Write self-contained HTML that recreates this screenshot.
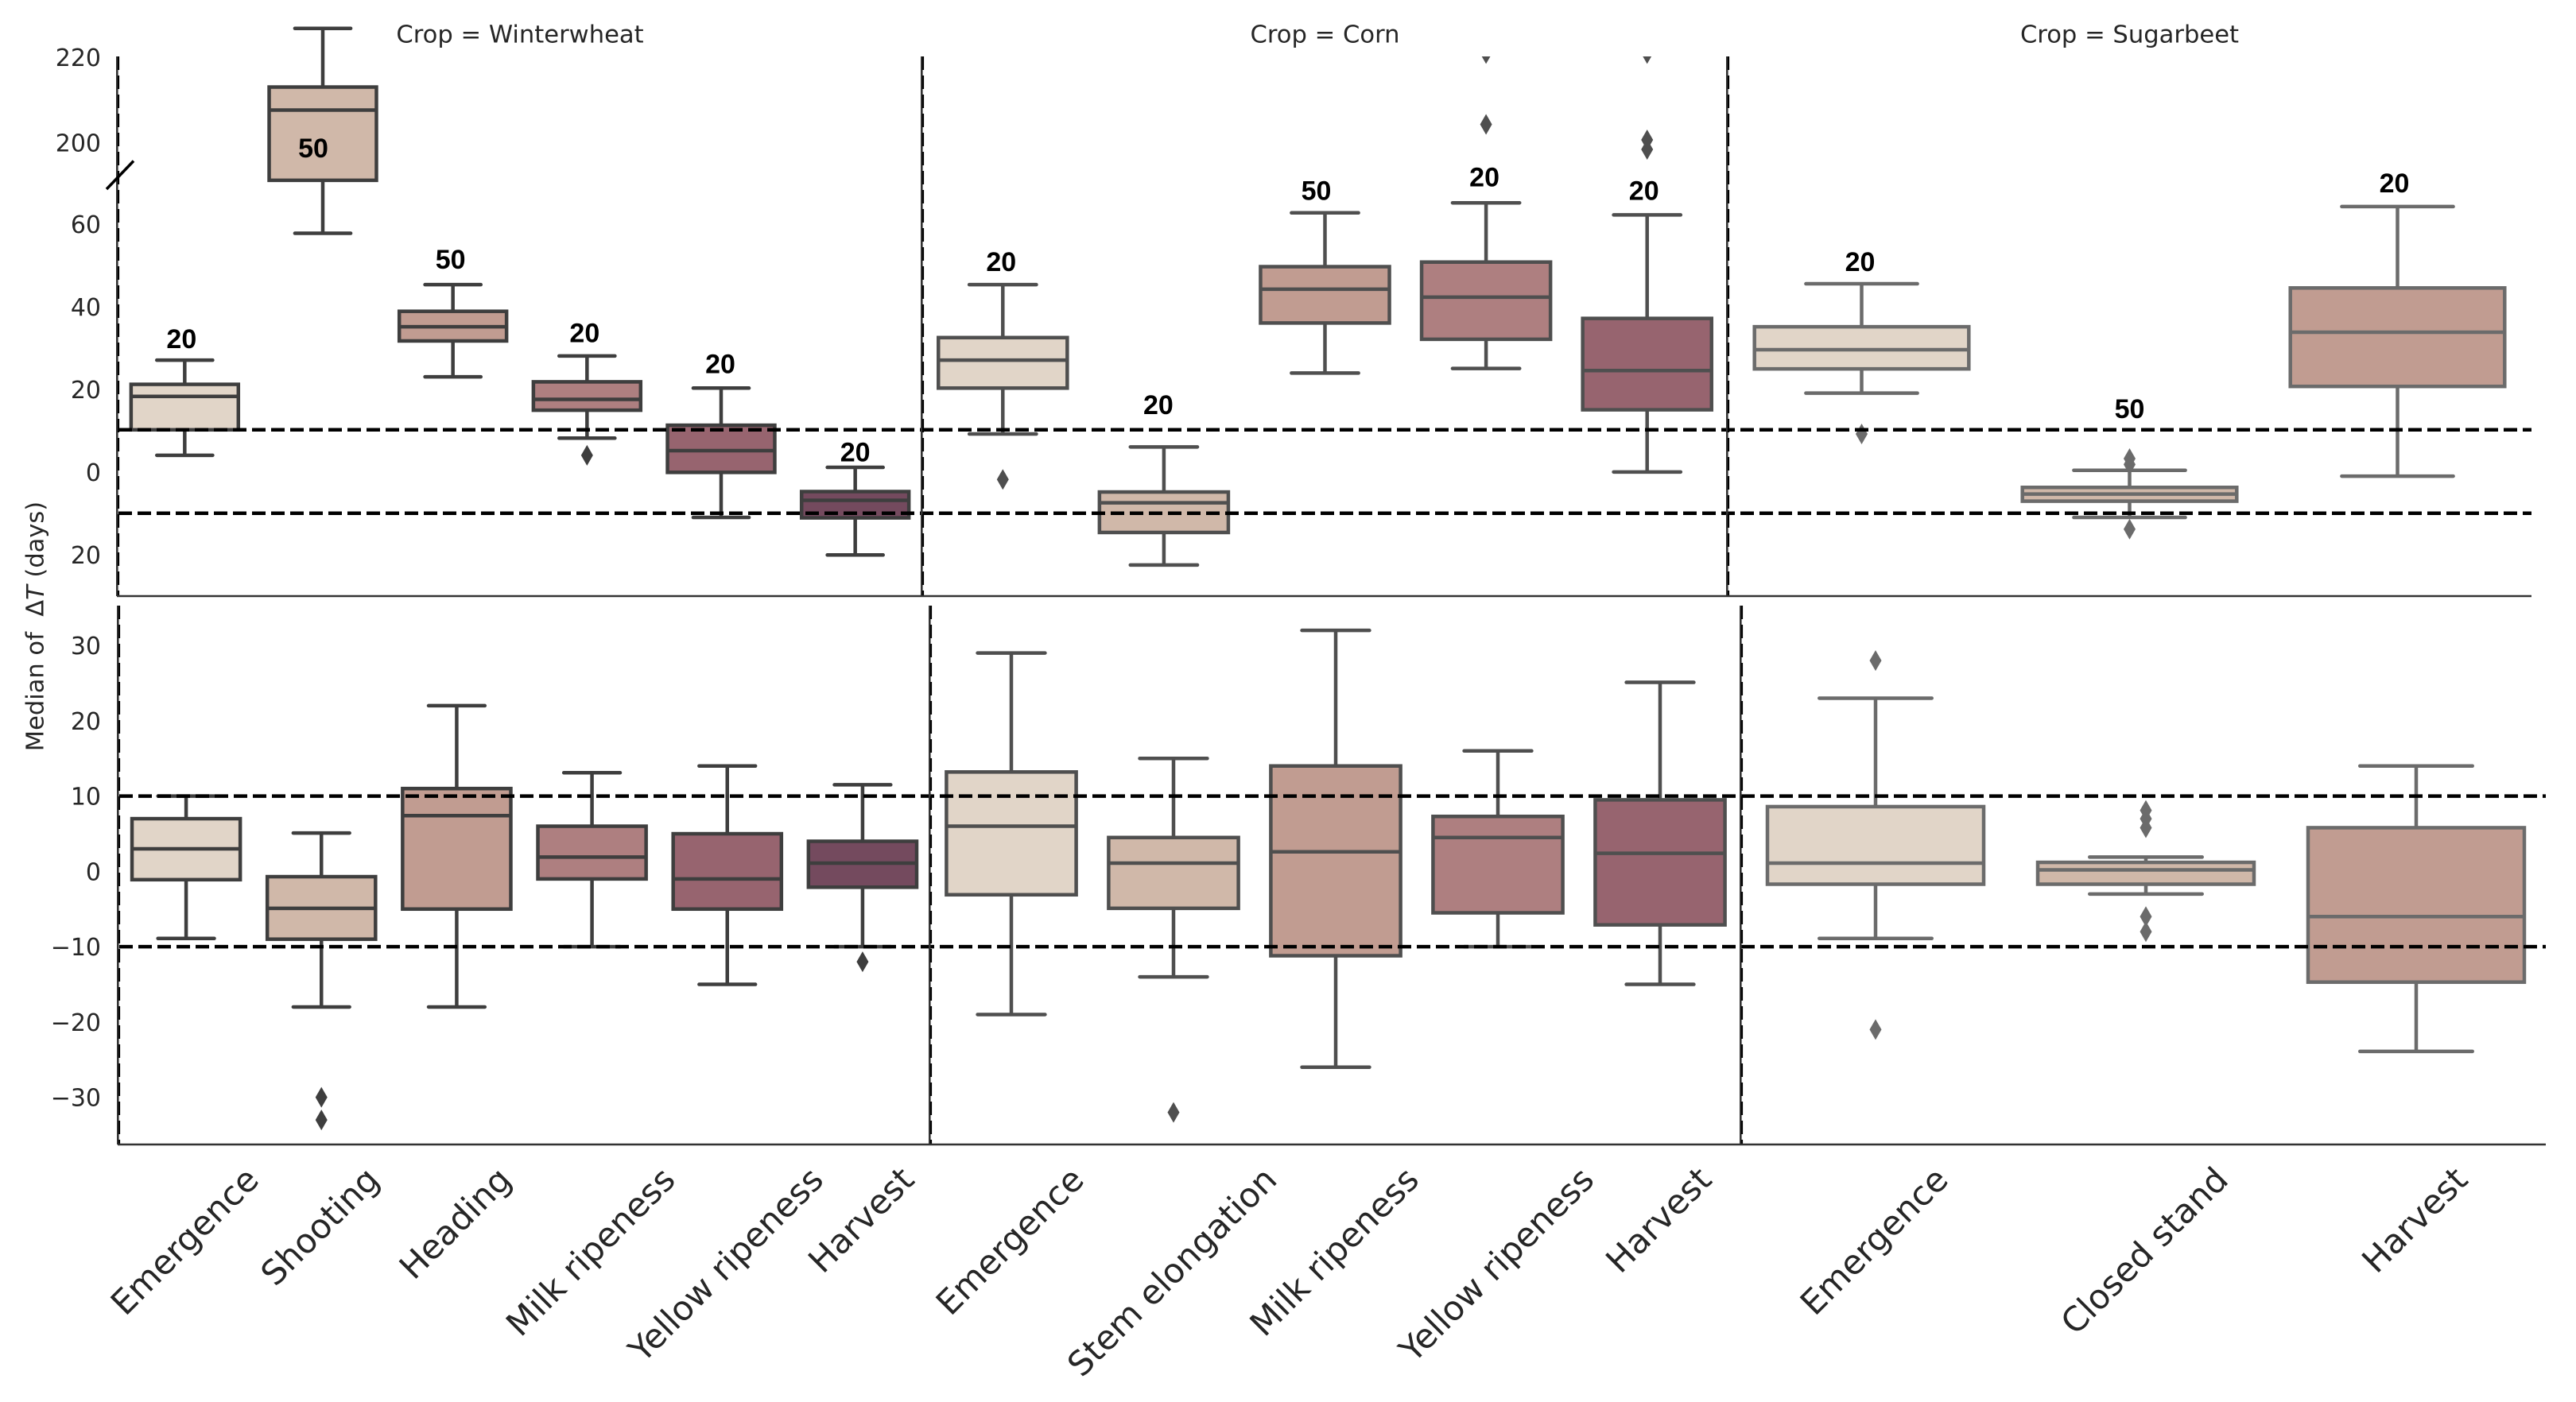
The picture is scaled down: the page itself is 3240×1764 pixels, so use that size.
<!DOCTYPE html>
<html lang="en">
<head>
<meta charset="utf-8">
<title>Median of delta T by crop and growth stage</title>
<style>
html,body{margin:0;padding:0;background:#fff;}
svg{display:block;}
text{font-family:"DejaVu Sans","Liberation Sans",sans-serif;fill:#262626;}
.count{font-family:"Liberation Sans",sans-serif;font-weight:700;font-size:34px;fill:#000;text-anchor:middle;dominant-baseline:central;}
</style>
</head>
<body>
<svg id="chart" xmlns="http://www.w3.org/2000/svg" width="3240" height="1764" viewBox="0 0 3240 1764">
  <defs>
    <clipPath id="top-clip"><rect x="100" y="71" width="3140" height="679"></rect></clipPath>
  </defs>
  <rect x="0" y="0" width="3240" height="1764" fill="#ffffff"></rect>
  <text transform="translate(45 788) rotate(-90)" text-anchor="middle" dominant-baseline="central" font-size="30.5">Median of &#160;Δ<tspan font-style="italic">T</tspan> (days)</text>
</svg>
<script>
// Tick values and labels
const topTicks = [-20, 0, 20, 40, 60, 200, 220];
const topTickLabels = ["20", "0", "20", "40", "60", "200", "220"];
const bottomTicks = [-30, -20, -10, 0, 10, 20, 30];
const bottomTickLabels = ["\u221230", "\u221220", "\u221210", "0", "10", "20", "30"];
const thresholds = [10, -10];

// Categories
const wheatStages = ["Emergence", "Shooting", "Heading", "Milk ripeness", "Yellow ripeness", "Harvest"];
const cornStages = ["Emergence", "Stem elongation", "Milk ripeness", "Yellow ripeness", "Harvest"];
const beetStages = ["Emergence", "Closed stand", "Harvest"];

// Upper panel: Winterwheat
const wheatTopHi = [26.7, 227.2, 44.8, 27.7, 20.0, 1.0];
const wheatTopQ3 = [20.9, 213.2, 38.4, 21.5, 11.1, -4.8];
const wheatTopMed = [18.0, 207.7, 34.7, 17.3, 5.0, -6.9];
const wheatTopQ1 = [10.0, 69.8, 31.3, 14.7, -0.2, -11.1];
const wheatTopLo = [3.9, 57.1, 22.7, 8.0, -11.0, -20.0];
const wheatTopOut = [[], [], [], [3.9], [], []];
const wheatCounts = ["20", "50", "50", "20", "20", "20"];
const wheatCountAt = [31.7, 198.5, 50.7, 33.1, 25.7, 4.5];

// Upper panel: Corn
const cornTopHi = [44.8, 5.9, 62.0, 64.4, 61.5];
const cornTopQ3 = [32.1, -4.9, 49.1, 50.2, 36.7];
const cornTopMed = [26.7, -7.5, 43.7, 41.8, 24.2];
const cornTopQ1 = [20.0, -14.6, 35.6, 31.7, 14.8];
const cornTopLo = [9.0, -22.4, 23.6, 24.7, -0.1];
const cornTopOut = [[-1.9], [], [], [204.3, 221.2], [200.6, 198.3, 221.2]];
const cornCounts = ["20", "20", "50", "20", "20"];
const cornCountAt = [50.2, 15.9, 67.2, 70.4, 67.2];

// Upper panel: Sugarbeet
const beetTopHi = [45.0, 0.3, 63.5];
const beetTopQ3 = [34.7, -3.8, 44.0];
const beetTopMed = [29.2, -5.4, 33.4];
const beetTopQ1 = [24.6, -7.1, 20.4];
const beetTopLo = [18.8, -11.0, -1.1];
const beetTopOut = [[9.0], [3.1, 1.7, -13.8], []];
const beetCounts = ["20", "50", "20"];
const beetCountAt = [50.2, 14.9, 69.0];

// Lower panel: Winterwheat
const wheatBotHi = [10.0, 5.1, 22.0, 13.1, 14.0, 11.5];
const wheatBotQ3 = [7.0, -0.7, 11.0, 6.0, 5.0, 4.0];
const wheatBotMed = [3.0, -4.9, 7.4, 1.9, -1.0, 1.1];
const wheatBotQ1 = [-1.1, -9.0, -5.0, -1.0, -5.0, -2.1];
const wheatBotLo = [-8.9, -18.0, -18.0, -10.0, -15.0, -10.0];
const wheatBotOut = [[], [-30, -33], [], [], [], [-12]];

// Lower panel: Corn
const cornBotHi = [29.0, 15.0, 32.0, 16.0, 25.1];
const cornBotQ3 = [13.2, 4.5, 14.0, 7.3, 9.5];
const cornBotMed = [6.0, 1.1, 2.6, 4.5, 2.4];
const cornBotQ1 = [-3.1, -4.9, -11.2, -5.5, -7.1];
const cornBotLo = [-19.0, -14.0, -26.0, -10.0, -15.0];
const cornBotOut = [[], [-32], [], [], []];

// Lower panel: Sugarbeet
const beetBotHi = [23.0, 1.9, 14.0];
const beetBotQ3 = [8.6, 1.2, 5.8];
const beetBotMed = [1.1, 0.2, -6.0];
const beetBotQ1 = [-1.7, -1.7, -14.7];
const beetBotLo = [-8.9, -3.0, -23.9];
const beetBotOut = [[28, -21], [8.1, 7.0, 5.8, -6, -8], []];

// Stage colours
const wheatFills = ["#e1d5c8", "#d0b8a9", "#c19c91", "#ae7f80", "#97646f", "#744a5e"];
const cornFills = ["#e1d5c8", "#d0b8a9", "#c19c91", "#ae7f80", "#97646f"];
const beetFills = ["#e1d5c8", "#d0b8a9", "#c19c91"];

// Axis functions
function yTop(v) { return v <= 100 ? 593.3 - 5.25 * v : 179.1 - (v - 200) * 5.27; }
function yTopLabel(v) { return v <= 100 ? 595.5 - 5.2 * v : yTop(v) + (v < 210 ? 2 : 0); }
function yBot(v) { return 1096.4 - 9.476 * v; }
function band(left, right, count, i) { return left + (right - left) / count * (i + 0.5); }
function bandWidth(left, right, count) { return (right - left) / count * 0.8; }

// Layout: per-facet horizontal shift of the count labels, in px
const countShift = {
  'winterwheat-upper-facet': [0, -8, 1, 1, 3, 4],
  'corn-upper-facet': [2, -3, -7, 2, 0],
  'sugarbeet-upper-facet': [2, 4, 0]
};

const svg = document.getElementById('chart');
const NS = 'http://www.w3.org/2000/svg';
function mk(tag, attrs, parent) {
  const n = document.createElementNS(NS, tag);
  for (const k in attrs) n.setAttribute(k, attrs[k]);
  parent.appendChild(n);
  return n;
}

function drawFacet(opts) {
  const g = mk('g', {}, svg);
  
  
  const y = opts.y;
  const n = opts.stages.length;
  const w = bandWidth(opts.left, opts.right, n);
  for (let i = 0; i < n; i++) {
    const nudge = (opts.name === 'winterwheat-upper-facet' && i === 1) ? 5 : 0;
    const cx = band(opts.left, opts.right, n, i) + nudge;
    const slug = opts.stages[i].toLowerCase().replace(/ /g, '-');
    const box = mk('g', {}, g);
    
    

    const whisker = mk('path', {
      d: 'M' + cx + ' ' + y(opts.hi[i]) + 'V' + y(opts.q3[i]) + 'M' + cx + ' ' + y(opts.q1[i]) + 'V' + y(opts.lo[i]),
      stroke: opts.edge, 'stroke-width': 4.5, fill: 'none'
    }, box);
    
    

    const capHi = mk('line', {
      x1: cx - w * 0.26, x2: cx + w * 0.26, y1: y(opts.hi[i]), y2: y(opts.hi[i]),
      stroke: opts.edge, 'stroke-width': 4.5, 'stroke-linecap': 'round'
    }, box);
    
    

    const capLo = mk('line', {
      x1: cx - w * 0.26, x2: cx + w * 0.26, y1: y(opts.lo[i]), y2: y(opts.lo[i]),
      stroke: opts.edge, 'stroke-width': 4.5, 'stroke-linecap': 'round'
    }, box);
    
    

    const rect = mk('rect', {
      x: cx - w / 2, y: y(opts.q3[i]), width: w, height: y(opts.q1[i]) - y(opts.q3[i]),
      fill: opts.fills[i], stroke: opts.edge, 'stroke-width': 4.5
    }, box);
    
    

    const med = mk('line', {
      x1: cx - w / 2, x2: cx + w / 2, y1: y(opts.med[i]), y2: y(opts.med[i]),
      stroke: opts.edge, 'stroke-width': 4.5
    }, box);
    
    

    opts.out[i].forEach(function (v) {
      const py = y(v);
      const d = mk('polygon', {
        points: cx + ',' + (py - 13) + ' ' + (cx + 7.5) + ',' + py + ' ' + cx + ',' + (py + 13) + ' ' + (cx - 7.5) + ',' + py,
        fill: opts.edge
      }, box);
      if (opts.clip) d.setAttribute('clip-path', 'url(#top-clip)');
      
      
    });

    if (opts.counts) {
      const t = mk('text', { x: cx - 4 + countShift[opts.name][i], y: y(opts.countAt[i]), class: 'count' }, box);
      t.textContent = opts.counts[i];
      
      
    }
  }
}

drawFacet({ name: 'winterwheat-upper-facet', left: 148, right: 1160, stages: wheatStages, y: yTop, hi: wheatTopHi, q3: wheatTopQ3, med: wheatTopMed, q1: wheatTopQ1, lo: wheatTopLo, out: wheatTopOut, fills: wheatFills, edge: '#3e3e3e', counts: wheatCounts, countAt: wheatCountAt, clip: true });
drawFacet({ name: 'corn-upper-facet', left: 1160, right: 2173, stages: cornStages, y: yTop, hi: cornTopHi, q3: cornTopQ3, med: cornTopMed, q1: cornTopQ1, lo: cornTopLo, out: cornTopOut, fills: cornFills, edge: '#4f4f4f', counts: cornCounts, countAt: cornCountAt, clip: true });
drawFacet({ name: 'sugarbeet-upper-facet', left: 2173, right: 3184, stages: beetStages, y: yTop, hi: beetTopHi, q3: beetTopQ3, med: beetTopMed, q1: beetTopQ1, lo: beetTopLo, out: beetTopOut, fills: beetFills, edge: '#6b6b6b', counts: beetCounts, countAt: beetCountAt, clip: true });
drawFacet({ name: 'winterwheat-lower-facet', left: 149, right: 1170, stages: wheatStages, y: yBot, hi: wheatBotHi, q3: wheatBotQ3, med: wheatBotMed, q1: wheatBotQ1, lo: wheatBotLo, out: wheatBotOut, fills: wheatFills, edge: '#3e3e3e' });
drawFacet({ name: 'corn-lower-facet', left: 1170, right: 2190, stages: cornStages, y: yBot, hi: cornBotHi, q3: cornBotQ3, med: cornBotMed, q1: cornBotQ1, lo: cornBotLo, out: cornBotOut, fills: cornFills, edge: '#4f4f4f' });
drawFacet({ name: 'sugarbeet-lower-facet', left: 2189, right: 3209, stages: beetStages, y: yBot, hi: beetBotHi, q3: beetBotQ3, med: beetBotMed, q1: beetBotQ1, lo: beetBotLo, out: beetBotOut, fills: beetFills, edge: '#6b6b6b' });

// Threshold lines
thresholds.forEach(function (v) {
  const a = mk('line', { x1: 149, x2: 3184, y1: yTop(v), y2: yTop(v), stroke: '#000', 'stroke-width': 4.5, 'stroke-dasharray': '17 7' }, svg);
  
  
  const b = mk('line', { x1: 150, x2: 3202, y1: yBot(v), y2: yBot(v), stroke: '#000', 'stroke-width': 4.5, 'stroke-dasharray': '17 7' }, svg);
  
  
});

// Facet separators: a thin solid line with a dashed line lying against it
[148, 1160, 2173].forEach(function (x) {
  const s = mk('line', { x1: x - 0.7, x2: x - 0.7, y1: 71, y2: 750, stroke: '#333', 'stroke-width': 2.6 }, svg);
  
  
  const d = mk('line', { x1: x + 1, x2: x + 1, y1: 71, y2: 750, stroke: '#000', 'stroke-width': 2.2, 'stroke-dasharray': '17 7' }, svg);
  
  
});
[149, 1170, 2190].forEach(function (x) {
  const s = mk('line', { x1: x - 0.7, x2: x - 0.7, y1: 762, y2: 1440, stroke: '#333', 'stroke-width': 2.6 }, svg);
  
  
  const d = mk('line', { x1: x + 1, x2: x + 1, y1: 762, y2: 1440, stroke: '#000', 'stroke-width': 2.2, 'stroke-dasharray': '17 7' }, svg);
  
  
});

// Baselines
const topBase = mk('line', { x1: 147, x2: 3184, y1: 750, y2: 750, stroke: '#333', 'stroke-width': 2.5 }, svg);


const botBase = mk('line', { x1: 148, x2: 3202, y1: 1440, y2: 1440, stroke: '#333', 'stroke-width': 2.5 }, svg);



// Axis break
const breakMark = mk('line', { x1: 134, y1: 238, x2: 168, y2: 202.5, stroke: '#000', 'stroke-width': 3.5 }, svg);



// Y tick labels
topTicks.forEach(function (v, i) {
  const t = mk('text', { x: 127, y: yTopLabel(v), 'text-anchor': 'end', 'dominant-baseline': 'central', 'font-size': 30 }, svg);
  t.textContent = topTickLabels[i];
  
  
});
bottomTicks.forEach(function (v, i) {
  const t = mk('text', { x: 127, y: yBot(v) + 1.5, 'text-anchor': 'end', 'dominant-baseline': 'central', 'font-size': 30 }, svg);
  t.textContent = bottomTickLabels[i];
  
  
});

// Facet titles
const facetTitles = ["Crop = Winterwheat", "Crop = Corn", "Crop = Sugarbeet"];
facetTitles.forEach(function (title, i) {
  const lefts = [148, 1160, 2173];
  const rights = [1160, 2173, 3184];
  const t = mk('text', { x: (lefts[i] + rights[i]) / 2, y: 44, 'text-anchor': 'middle', 'dominant-baseline': 'central', 'font-size': 30.6 }, svg);
  t.textContent = title;
  
  
});

// X tick labels
function drawXLabels(stages, left, right) {
  stages.forEach(function (s, i) {
    const cx = band(left, right, stages.length, i);
    const t = mk('text', { x: 0, y: 0, 'text-anchor': 'middle', 'dominant-baseline': 'central', 'font-size': 42.5 }, svg);
    t.textContent = s;
    
    
    const len = t.getComputedTextLength();
    const cy = 1460 + (len + 49) * 0.7071 / 2;
    t.setAttribute('transform', 'translate(' + (cx - 1) + ' ' + cy + ') rotate(-45)');
  });
}
drawXLabels(wheatStages, 149, 1170);
drawXLabels(cornStages, 1170, 2190);
drawXLabels(beetStages, 2189, 3209);
</script>
</body>
</html>
